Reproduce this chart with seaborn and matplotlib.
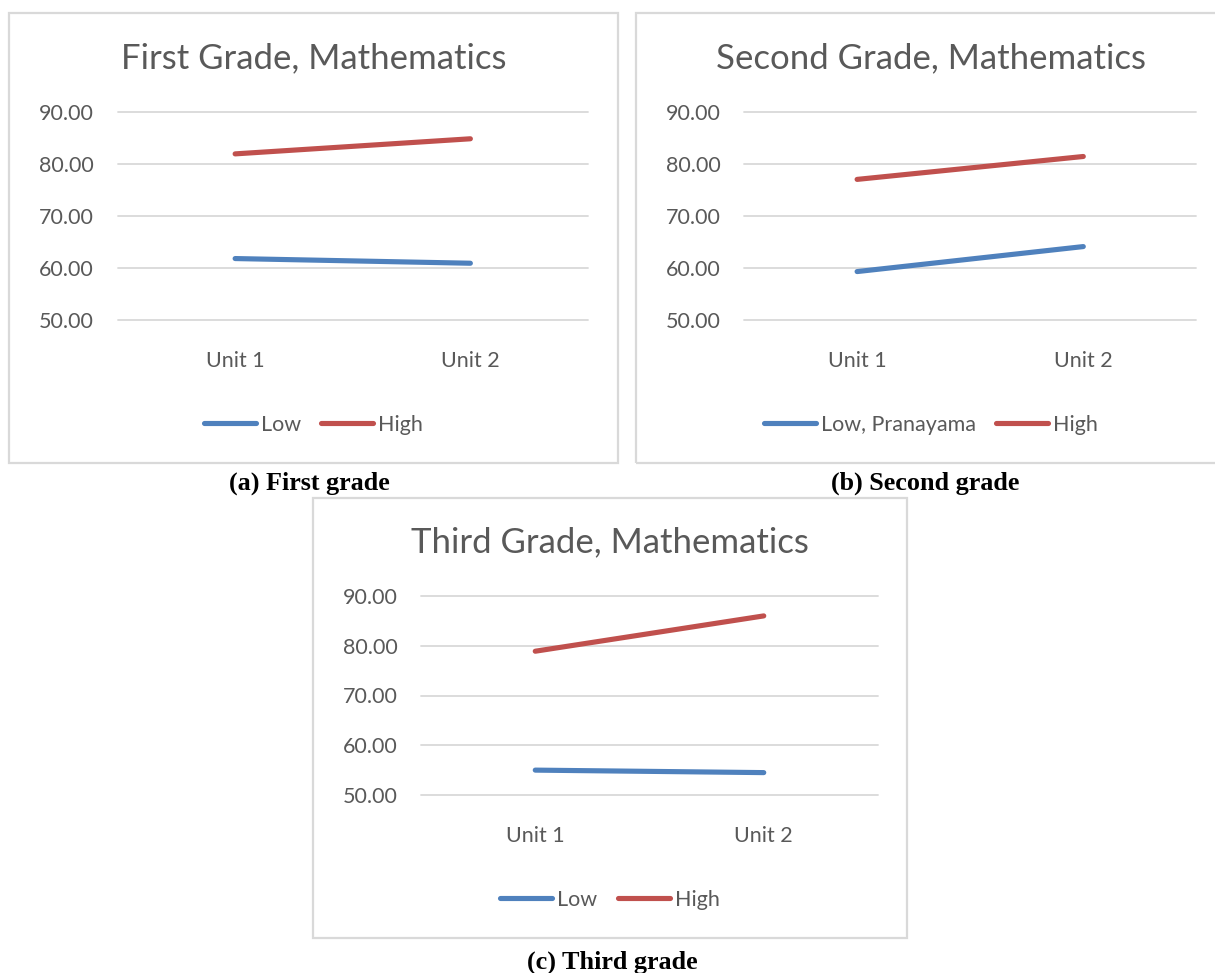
import pandas as pd
import seaborn as sns
import matplotlib.pyplot as plt
from matplotlib.patches import Rectangle

# values
units = ["Unit 1", "Unit 2"]
grade1_low = [61.8, 60.9]
grade1_high = [81.9, 84.8]
grade2_low = [59.3, 64.1]
grade2_high = [77.0, 81.4]
grade3_low = [55.0, 54.5]
grade3_high = [78.9, 86.0]

titles = ["First Grade, Mathematics", "Second Grade, Mathematics", "Third Grade, Mathematics"]
low_names = ["Low", "Low, Pranayama", "Low"]
captions = ["(a) First grade", "(b) Second grade", "(c) Third grade"]
yticks = [50, 60, 70, 80, 90]

sns.set_theme(style="white")
plt.rcParams['font.family'] = ['Lato', 'DejaVu Sans']

W, H = 1215, 973
fig = plt.figure(figsize=(W / 100, H / 100), dpi=100)

# layout in pixels: box (x0, y0, x1, y1), plot area (x0, y0, x1, y1)
boxes = [(9, 13, 618, 463), (636, 13, 1226, 463), (313, 498, 907, 938)]
areas = [(117.5, 111.7, 588, 320), (744, 111.7, 1196.4, 320), (421, 596, 878, 795)]
caption_xy = [(309, 483), (925, 483), (612, 962)]
title_y = [58, 58, 542]
legend_y = [425, 425, 900]

grey = "#595959"
palette = {"low": "#4F81BD", "high": "#C0504D"}
small = 15.5

data = [(grade1_low, grade1_high), (grade2_low, grade2_high), (grade3_low, grade3_high)]

for i, (low, high) in enumerate(data):
    bx0, by0, bx1, by1 = boxes[i]
    fig.patches.append(Rectangle((bx0 / W, 1 - by1 / H), (bx1 - bx0) / W, (by1 - by0) / H,
                                 transform=fig.transFigure, fill=False,
                                 edgecolor="#D9D9D9", linewidth=1.6, zorder=0))
    ax0, ay0, ax1, ay1 = areas[i]
    ax = fig.add_axes([ax0 / W, 1 - ay1 / H, (ax1 - ax0) / W, (ay1 - ay0) / H])

    df = pd.DataFrame({
        "unit": units * 2,
        "score": list(low) + list(high),
        "group": ["low"] * 2 + ["high"] * 2,
    })
    sns.lineplot(data=df, x="unit", y="score", hue="group", palette=palette,
                 linewidth=3.7, ax=ax, legend=False, sort=False)
    for ln in ax.lines:
        ln.set_solid_capstyle("round")

    ax.set_xlim(-0.5, 1.5)
    ax.set_ylim(50, 90)
    ax.set_yticks(yticks)
    ax.set_yticklabels([f"{v:.2f}" for v in yticks])
    ax.set_xlabel("")
    ax.set_ylabel("")
    ax.grid(axis="y", color="#D9D9D9", linewidth=1.3)
    ax.set_axisbelow(True)
    for g in ax.get_ygridlines():
        g.set_clip_on(False)
    for s in ax.spines.values():
        s.set_visible(False)
    ax.tick_params(axis="y", length=0, pad=17, labelsize=small, labelcolor=grey)
    ax.tick_params(axis="x", length=0, pad=22, labelsize=small, labelcolor=grey)

    cx = (bx0 + bx1) / 2
    fig.text(cx / W, 1 - title_y[i] / H, titles[i], ha="center", va="center",
             fontsize=25, color=grey)

    ax.legend(ax.lines[:2], [low_names[i], "High"], loc="center",
              bbox_to_anchor=(cx / W, 1 - legend_y[i] / H),
              bbox_transform=fig.transFigure, ncol=2, frameon=False,
              fontsize=small, handlelength=2.42, handletextpad=0.23,
              columnspacing=0.95, labelcolor=grey)

    capx, capy = caption_xy[i]
    fig.text(capx / W, 1 - capy / H, captions[i], ha="center", va="center",
             fontsize=18.8, fontweight="bold", family="Liberation Serif", color="black")

fig.savefig("out.png", dpi=100)
